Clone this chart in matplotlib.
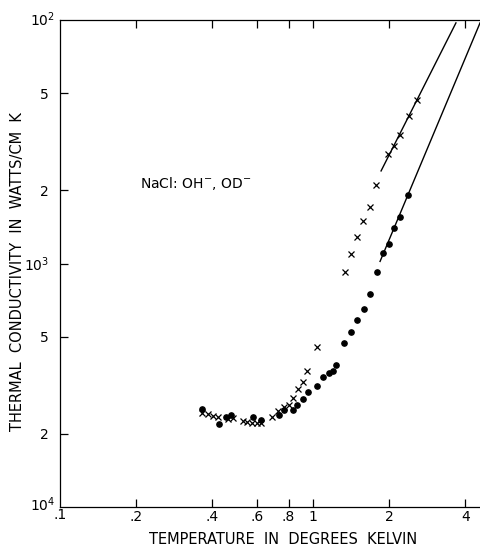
import numpy as np
import matplotlib
matplotlib.use("Agg")
from matplotlib import pyplot as plt

# solid circles
dot_T = [0.364, 0.425, 0.453, 0.474, 0.579, 0.623, 0.734, 0.768, 0.834, 0.865,
         0.913, 0.955, 1.037, 1.095, 1.157, 1.200, 1.233, 1.326, 1.413, 1.493,
         1.591, 1.680, 1.791, 1.891, 1.998, 2.091, 2.208, 2.374]
dot_k = [2.53e-4, 2.19e-4, 2.34e-4, 2.39e-4, 2.34e-4, 2.28e-4, 2.39e-4, 2.50e-4,
         2.50e-4, 2.62e-4, 2.78e-4, 2.97e-4, 3.14e-4, 3.42e-4, 3.55e-4, 3.62e-4,
         3.83e-4, 4.72e-4, 5.23e-4, 5.86e-4, 6.50e-4, 7.49e-4, 9.23e-4, 1.104e-3,
         1.203e-3, 1.399e-3, 1.552e-3, 1.911e-3]

# crosses
cross_T = [0.364, 0.385, 0.403, 0.421, 0.461, 0.483, 0.529, 0.549, 0.574, 0.601,
           0.623, 0.689, 0.728, 0.768, 0.804, 0.834, 0.873, 0.913, 0.947, 1.037,
           1.338, 1.413, 1.493, 1.576, 1.680, 1.774, 1.979, 2.091, 2.208, 2.396,
           2.577]
cross_k = [2.43e-4, 2.41e-4, 2.36e-4, 2.34e-4, 2.30e-4, 2.32e-4, 2.26e-4, 2.23e-4,
           2.21e-4, 2.21e-4, 2.21e-4, 2.34e-4, 2.48e-4, 2.57e-4, 2.62e-4, 2.80e-4,
           3.05e-4, 3.26e-4, 3.62e-4, 4.54e-4, 9.23e-4, 1.094e-3, 1.285e-3, 1.494e-3,
           1.706e-3, 2.10e-3, 2.82e-3, 3.04e-3, 3.37e-3, 4.03e-3, 4.69e-3]

# straight fitted lines (end points)
line_cross_T = [1.857, 3.67]
line_cross_k = [2.40e-3, 9.73e-3]
line_dot_T = [1.84, 4.57]
line_dot_k = [1.02e-3, 9.73e-3]

xticks = [0.2, 0.4, 0.6, 0.8, 1, 2, 4]
xticklabels = ['.2', '.4', '.6', '.8', '1', '2', '4']
yticks = [2e-4, 5e-4, 1e-3, 2e-3, 5e-3]
yticklabels = ['2', '5', '10$^{3}$', '2', '5']

fig = plt.figure(figsize=(4.81, 5.46), dpi=100)
ax = fig.add_axes([60/481, 39/546, 421/481, 487/546])
ax.set_xscale('log')
ax.set_yscale('log')
ax.set_xlim(0.1, 4.61)
ax.set_ylim(1e-4, 1e-2)

ax.plot(dot_T, dot_k, 'o', color='black', ms=3.8, mec='black')
ax.plot(cross_T, cross_k, 'x', color='black', ms=5, mew=0.9)
ax.plot(line_cross_T, line_cross_k, '-', color='black', lw=1.0)
ax.plot(line_dot_T, line_dot_k, '-', color='black', lw=1.0)

ax.spines['right'].set_visible(False)
for s in ['left', 'bottom', 'top']:
    ax.spines[s].set_linewidth(0.9)

ax.minorticks_off()
ax.set_xticks(xticks)
ax.set_xticklabels(xticklabels, fontsize=10)
ax.set_yticks(yticks)
ax.set_yticklabels(yticklabels, fontsize=10)
ax.tick_params(axis='x', which='both', direction='in', top=True, length=6, width=0.9, pad=2)
ax.tick_params(axis='y', which='both', direction='in', right=False, length=6, width=0.9, pad=8)

# corner labels
fig.text(43/481, 1 - 20/546, '10$^{2}$', fontsize=10, ha='center', va='center')
fig.text(43/481, 1 - 505/546, '10$^{4}$', fontsize=10, ha='center', va='center')
fig.text(60/481, 1 - 515/546, '.1', fontsize=10, ha='center', va='center')

ax.text(0.207, 2.14e-3, 'NaCl: OH$^{-}$, OD$^{-}$', fontsize=10, ha='left', va='center')

fig.text(283/481, 1 - 539/546, 'TEMPERATURE  IN  DEGREES  KELVIN', fontsize=10.5,
         ha='center', va='center')
fig.text(18/481, 1 - 272/546, 'THERMAL  CONDUCTIVITY  IN  WATTS/CM  K', fontsize=10.5,
         ha='center', va='center', rotation=90)

fig.savefig('out.png', dpi=100)
